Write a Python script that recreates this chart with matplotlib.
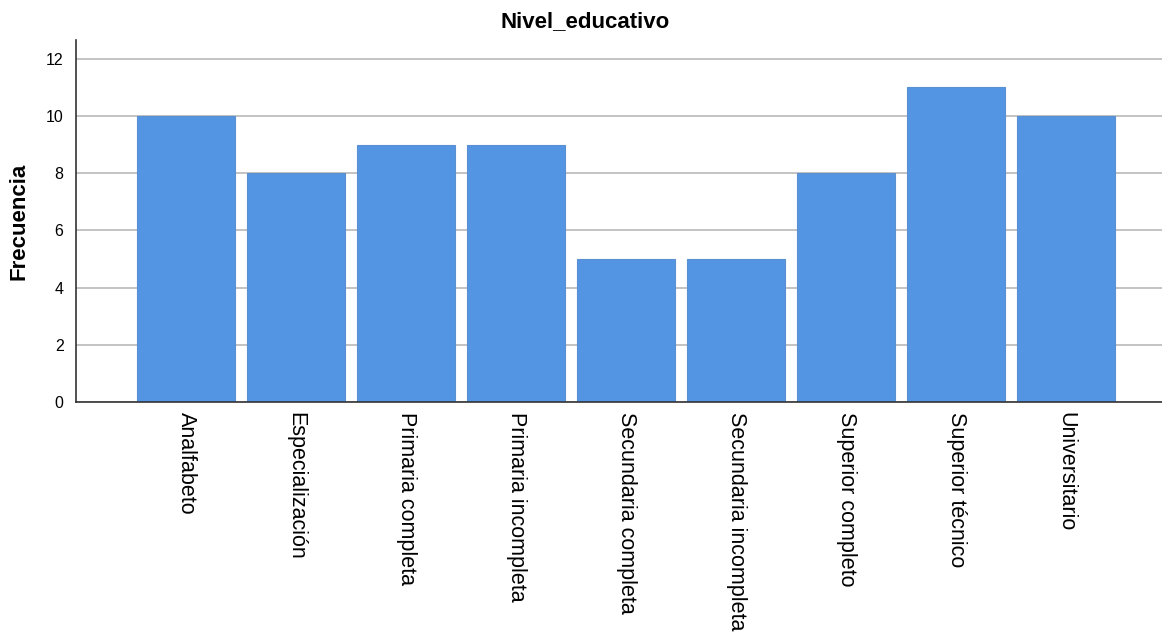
import matplotlib
matplotlib.use("Agg")
import matplotlib.pyplot as plt

categories = ["Analfabeto", "Especialización", "Primaria completa", "Primaria incompleta",
              "Secundaria completa", "Secundaria incompleta", "Superior completo",
              "Superior técnico", "Universitario"]
frecuencia = [10, 8, 9, 9, 5, 5, 8, 11, 10]
yticks = [0, 2, 4, 6, 8, 10, 12]

plt.rcParams['font.family'] = ['Liberation Sans', 'DejaVu Sans']

fig = plt.figure(figsize=(11.62, 6.33), dpi=100)
ax = fig.add_axes([76/1162, 1 - 402/633, 1 - 76/1162, (402 - 40)/633])

x = list(range(len(categories)))
ax.bar(x, frecuencia, width=0.89, color="#5495E3", edgecolor="#5A8FD0", linewidth=0.8, zorder=3)

ax.set_xlim(-1.0, 8.87)
ax.set_ylim(0, 12.66)
ax.set_yticks(yticks)
ax.set_yticklabels([str(v) for v in yticks], fontsize=11.5)
ax.set_xticks(x)
ax.set_xticklabels(categories, rotation=270, fontsize=15.5, va="top", ha="center")
ax.tick_params(axis="both", length=0)
ax.tick_params(axis="y", pad=9)
ax.tick_params(axis="x", pad=7)

ax.yaxis.grid(True, color="#B9B9B9", linewidth=1.2, zorder=0)
ax.set_axisbelow(True)
for s in ["top", "right"]:
    ax.spines[s].set_visible(False)
for s in ["left", "bottom"]:
    ax.spines[s].set_color("#333333")
    ax.spines[s].set_linewidth(1.2)
    ax.spines[s].set_zorder(4)

ax.set_ylabel("Frecuencia", fontsize=16, fontweight="bold", labelpad=12)
fig.text(585/1162, 1 - 22/633, "Nivel_educativo", fontsize=16, fontweight="bold",
         ha="center", va="center")

fig.savefig("out.png", dpi=100, facecolor="white")
